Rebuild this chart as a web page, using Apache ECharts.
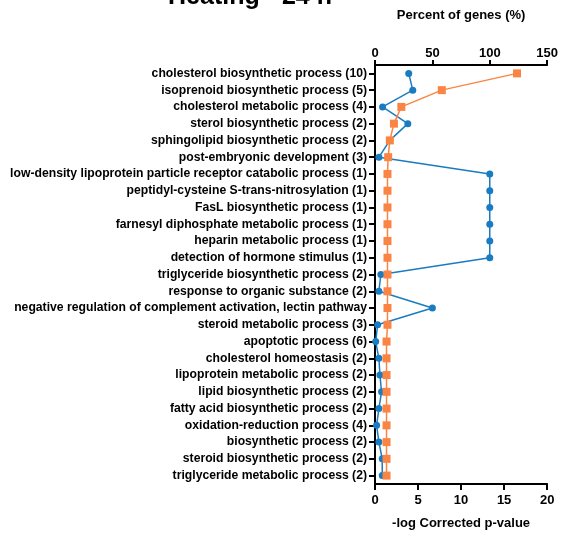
<!DOCTYPE html>
<html><head><meta charset="utf-8">
<script src="https://cdn.jsdelivr.net/npm/echarts@6/dist/echarts.min.js"></script>
<style>html,body{margin:0;padding:0;background:#fff}#c{width:561px;height:535px}</style>
</head><body><div id="c"></div>
<script>
var categories = [
  "cholesterol biosynthetic process (10)",
  "isoprenoid biosynthetic process (5)",
  "cholesterol metabolic process (4)",
  "sterol biosynthetic process (2)",
  "sphingolipid biosynthetic process (2)",
  "post-embryonic development (3)",
  "low-density lipoprotein particle receptor catabolic process (1)",
  "peptidyl-cysteine S-trans-nitrosylation (1)",
  "FasL biosynthetic process (1)",
  "farnesyl diphosphate metabolic process (1)",
  "heparin metabolic process (1)",
  "detection of hormone stimulus (1)",
  "triglyceride biosynthetic process (2)",
  "response to organic substance (2)",
  "negative regulation of complement activation, lectin pathway",
  "steroid metabolic process (3)",
  "apoptotic process (6)",
  "cholesterol homeostasis (2)",
  "lipoprotein metabolic process (2)",
  "lipid biosynthetic process (2)",
  "fatty acid biosynthetic process (2)",
  "oxidation-reduction process (4)",
  "biosynthetic process (2)",
  "steroid biosynthetic process (2)",
  "triglyceride metabolic process (2)"
];
var percentGenes = [29.4, 32.9, 6.6, 28.6, 12.9, 3.4, 100, 100, 100, 100, 100, 100, 5.1, 3.4, 50, 2.3, 0.6, 3.4, 4.3, 5.7, 3.4, 1.4, 3.4, 6.3, 6.3];
var logPValue = [16.5, 7.76, 3.06, 2.2, 1.72, 1.53, 1.45, 1.45, 1.45, 1.45, 1.45, 1.45, 1.45, 1.45, 1.45, 1.45, 1.34, 1.34, 1.34, 1.34, 1.34, 1.34, 1.34, 1.34, 1.34];
var percentTicks = [0, 150, 50];
var pTicks = [0, 20, 5];

var FONT = '"Liberation Sans", Arial, sans-serif';
var chart = echarts.init(document.getElementById('c'));
chart.setOption({
  animation: false,
  backgroundColor: '#fff',
  title: {
    text: 'Heating - 24 h', left: 245, top: -20, textAlign: 'center',
    textStyle: {fontFamily: FONT, fontWeight: 'bold', fontSize: 25, color: '#000'}
  },
  grid: {left: 375, right: 12, top: 65, bottom: 51},
  xAxis: [{
    type: 'value', position: 'top', min: percentTicks[0], max: percentTicks[1], interval: percentTicks[2],
    name: 'Percent of genes (%)', nameLocation: 'middle', nameGap: 43,
    nameTextStyle: {fontFamily: FONT, fontWeight: 'bold', fontSize: 13, color: '#000'},
    axisLine: {show: true, lineStyle: {color: '#000', width: 2}},
    axisTick: {show: true, length: 5, lineStyle: {color: '#000', width: 2}},
    axisLabel: {fontFamily: FONT, fontWeight: 'bold', fontSize: 13, color: '#000', margin: 5},
    splitLine: {show: false}
  }, {
    type: 'value', position: 'bottom', min: pTicks[0], max: pTicks[1], interval: pTicks[2],
    name: '-log Corrected p-value', nameLocation: 'middle', nameGap: 33,
    nameTextStyle: {fontFamily: FONT, fontWeight: 'bold', fontSize: 13, color: '#000'},
    axisLine: {show: true, lineStyle: {color: '#000', width: 2}},
    axisTick: {show: true, length: 6, lineStyle: {color: '#000', width: 2}},
    axisLabel: {fontFamily: FONT, fontWeight: 'bold', fontSize: 13, color: '#000', margin: 10},
    splitLine: {show: false}
  }],
  yAxis: {
    type: 'category', data: categories, inverse: true, boundaryGap: true,
    axisLine: {show: true, lineStyle: {color: '#000', width: 2}},
    axisTick: {show: true, alignWithLabel: true, length: 6, lineStyle: {color: '#000', width: 2}},
    axisLabel: {fontFamily: FONT, fontWeight: 'bold', fontSize: 12.2, color: '#000', margin: 8, interval: 0},
    splitLine: {show: false}
  },
  series: [{
    name: 'Percent of genes', type: 'line', xAxisIndex: 0, data: percentGenes,
    symbol: 'circle', symbolSize: 7,
    lineStyle: {color: '#1a7cc0', width: 1.5},
    itemStyle: {color: '#1a7cc0'}
  }, {
    name: '-log Corrected p-value', type: 'line', xAxisIndex: 1, data: logPValue,
    symbol: 'rect', symbolSize: 8,
    lineStyle: {color: '#fa8444', width: 1.5},
    itemStyle: {color: '#fa8444'}
  }]
});
</script></body></html>
